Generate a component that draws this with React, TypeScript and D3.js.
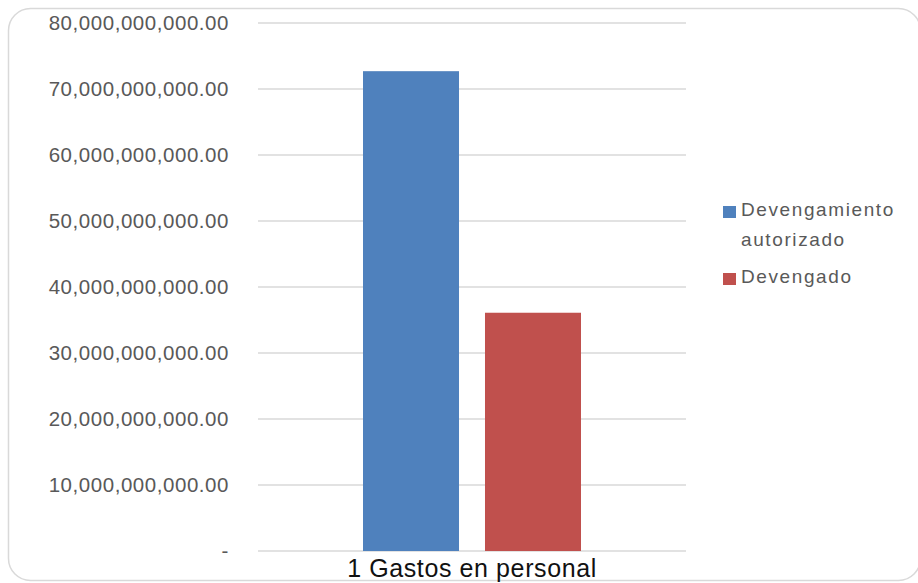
import { useEffect, useRef } from "react"
import * as d3 from "d3"

const categories = ["1 Gastos en personal"]
const seriesNames = ["Devengamiento autorizado", "Devengado"]
const legendLines = [["Devengamiento", "autorizado"], ["Devengado"]]
const autorizado = [72700000000]
const devengado = [36100000000]
const colors = ["#4f81bd", "#c0504d"]
const yTicks = [0, 10e9, 20e9, 30e9, 40e9, 50e9, 60e9, 70e9, 80e9]

const W = 918
const H = 583
const plot = { left: 258, right: 686, top: 23, bottom: 551 }

const fmt = (v: number) => (v === 0 ? "-" : d3.format(",.2f")(v))

const App = () => {
  const ref = useRef<SVGSVGElement>(null)

  useEffect(() => {
    if (!ref.current) return
    const svg = d3.select(ref.current)
    svg.selectAll("*").remove()

    svg
      .append("rect")
      .attr("x", 8.5)
      .attr("y", 8.5)
      .attr("width", 912)
      .attr("height", 572)
      .attr("rx", 22)
      .attr("fill", "#fff")
      .attr("stroke", "#d9d9d9")
      .attr("stroke-width", 1.5)

    const y = d3.scaleLinear().domain([0, 80e9]).range([plot.bottom, plot.top])
    const x0 = d3
      .scaleBand()
      .domain(categories)
      .range([plot.left, plot.right])
      .paddingInner(0)
      .paddingOuter(0)
    const x1 = d3
      .scaleBand()
      .domain(seriesNames)
      .range([105, x0.bandwidth() - 105])
      .paddingInner(0.213)

    // gridlines
    svg
      .append("g")
      .selectAll("line")
      .data(yTicks)
      .join("line")
      .attr("x1", plot.left)
      .attr("x2", plot.right)
      .attr("y1", (d) => y(d))
      .attr("y2", (d) => y(d))
      .attr("stroke", "#d9d9d9")
      .attr("stroke-width", 1.3)

    // y tick labels
    svg
      .append("g")
      .selectAll("text")
      .data(yTicks)
      .join("text")
      .attr("x", 229)
      .attr("y", (d) => y(d) + 7)
      .attr("text-anchor", "end")
      .attr("font-family", "Liberation Sans, Arial, sans-serif")
      .attr("font-size", 20.5)
      .attr("letter-spacing", 0.55)
      .attr("fill", "#595959")
      .text((d) => fmt(d))

    const series = [autorizado, devengado]
    const g = svg.append("g")
    series.forEach((vals, si) => {
      g.selectAll(`rect.s${si}`)
        .data(vals)
        .join("rect")
        .attr("class", `s${si}`)
        .attr("x", (_, i) => (x0(categories[i]) ?? 0) + (x1(seriesNames[si]) ?? 0))
        .attr("width", x1.bandwidth())
        .attr("y", (d) => y(d))
        .attr("height", (d) => y(0) - y(d))
        .attr("fill", colors[si])
    })

    // category label
    svg
      .append("g")
      .selectAll("text")
      .data(categories)
      .join("text")
      .attr("x", (d) => (x0(d) ?? 0) + x0.bandwidth() / 2)
      .attr("y", 577)
      .attr("text-anchor", "middle")
      .attr("font-family", "Liberation Sans, Arial, sans-serif")
      .attr("font-size", 25)
      .attr("letter-spacing", 0.6)
      .attr("fill", "#111")
      .text((d) => d)

    // legend
    const legendY = [206, 273]
    legendLines.forEach((lines, i) => {
      svg
        .append("rect")
        .attr("x", 723)
        .attr("y", legendY[i])
        .attr("width", 13)
        .attr("height", 12)
        .attr("fill", colors[i])
      lines.forEach((ln, j) => {
        svg
          .append("text")
          .attr("x", 741)
          .attr("y", legendY[i] + 10 + j * 30)
          .attr("font-family", "Liberation Sans, Arial, sans-serif")
          .attr("font-size", 19)
          .attr("letter-spacing", 1.6)
          .attr("fill", "#595959")
          .text(ln)
      })
    })
  }, [])

  return (
    <svg
      ref={ref}
      width={W}
      height={H}
      style={{ position: "absolute", left: 0, top: 0 }}
    />
  )
}

export default App
